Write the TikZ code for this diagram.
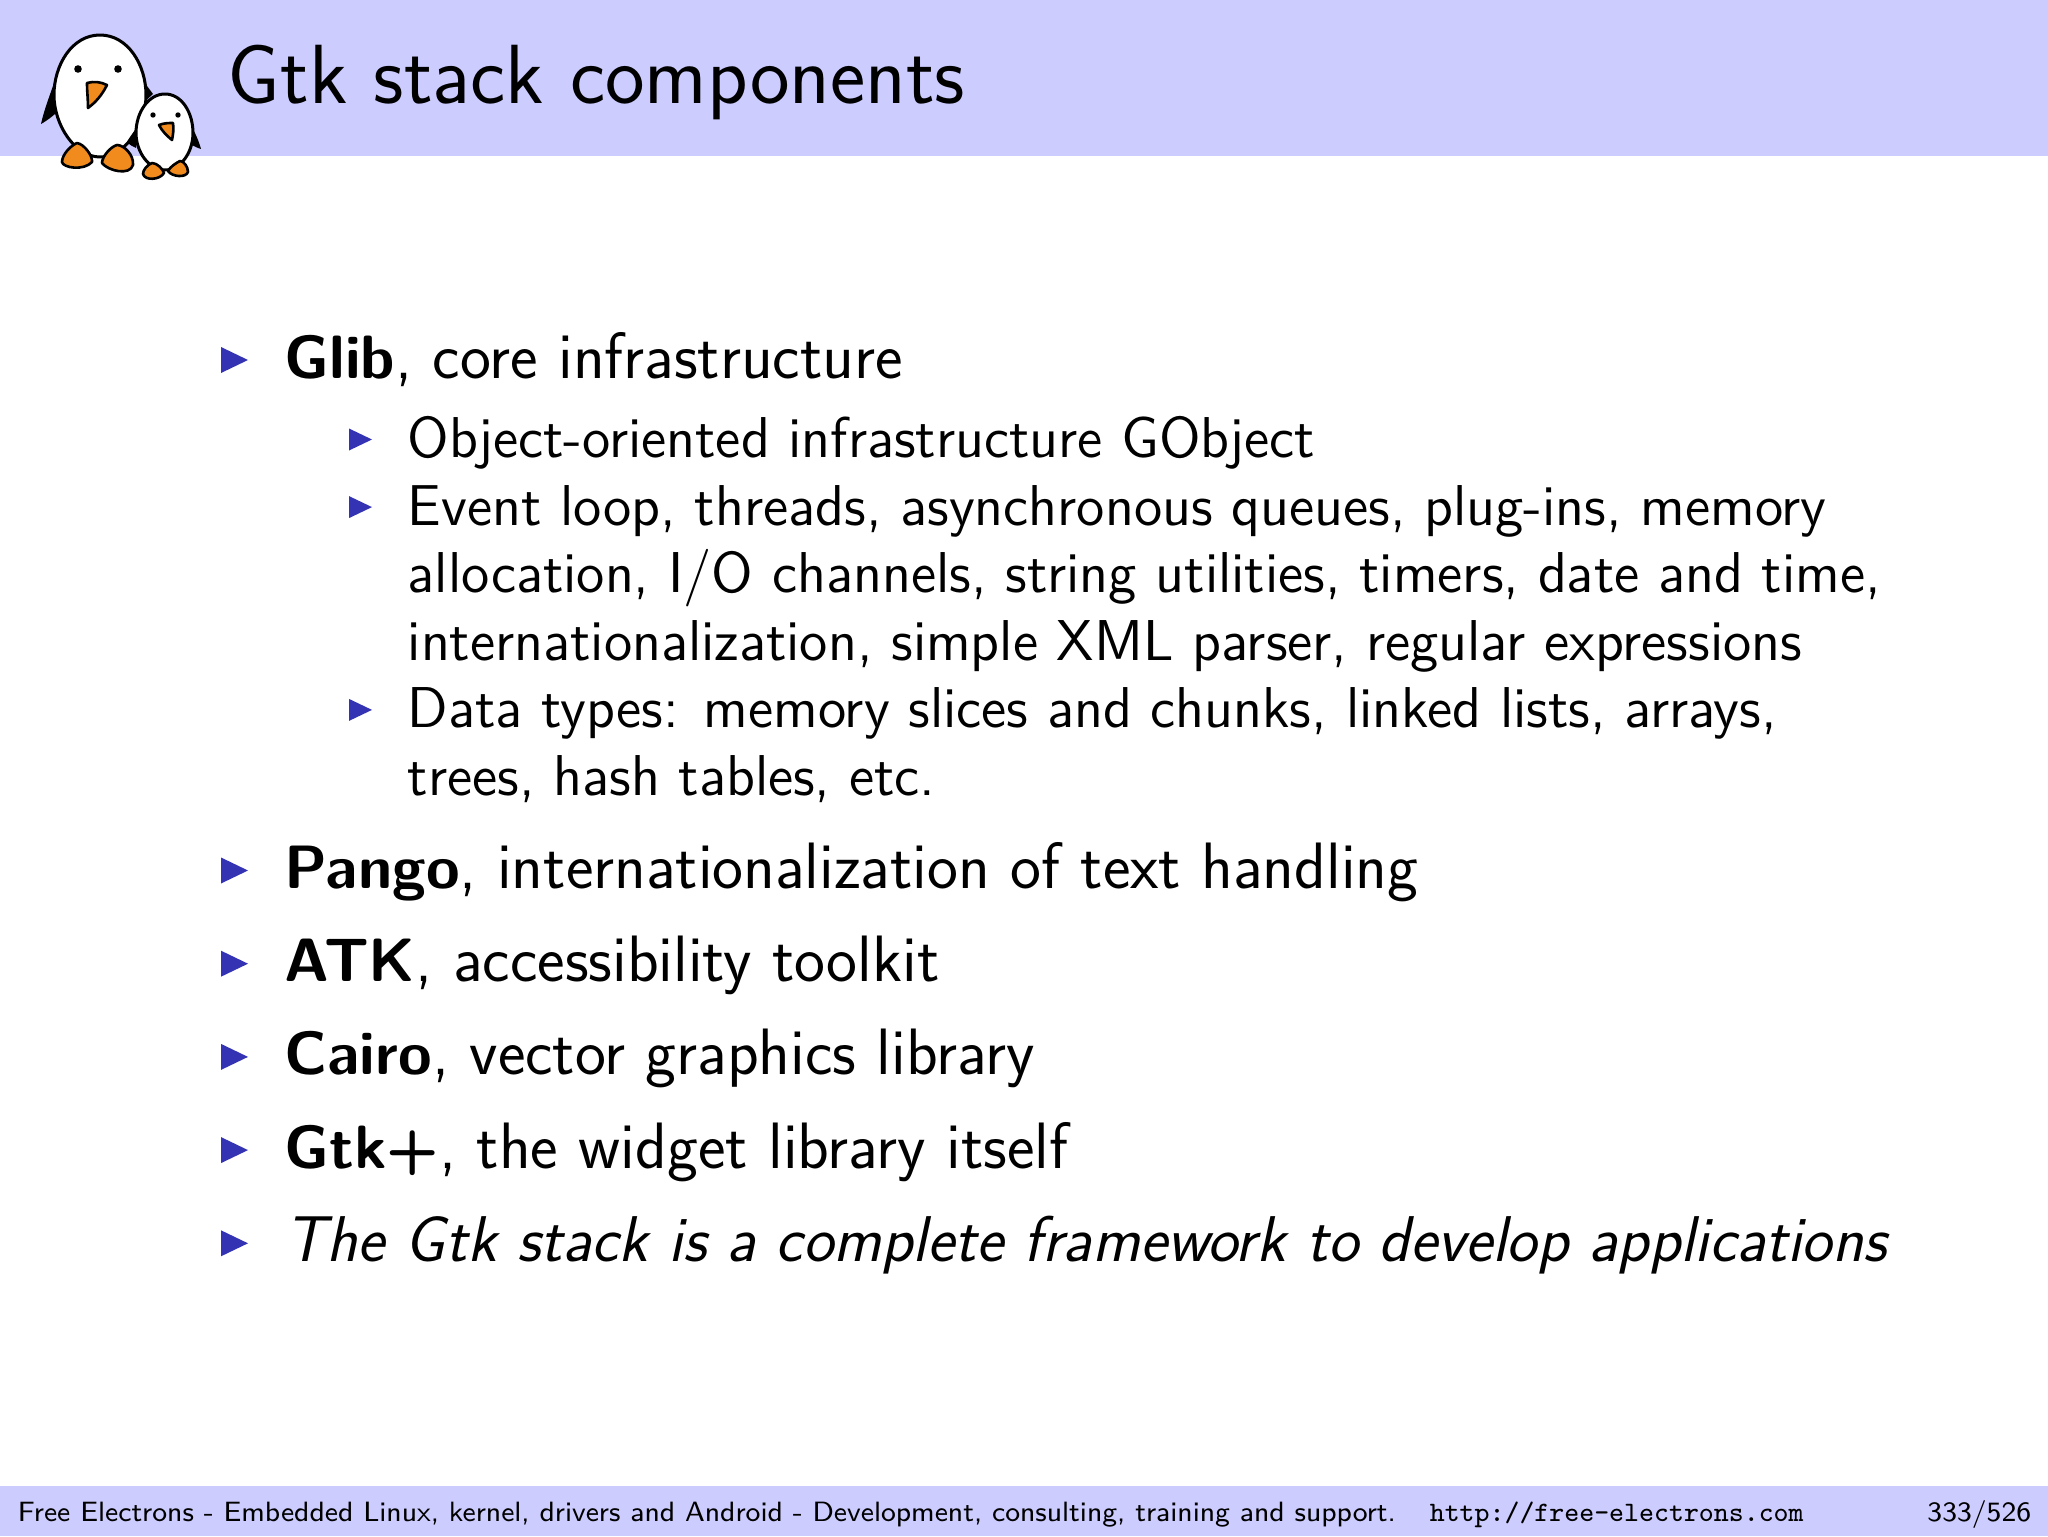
\documentclass[tikz,border=0pt]{standalone}
\usepackage{xcolor}
\usepackage{tikz}
\usetikzlibrary{calc, positioning}
\definecolor{bandblue}{HTML}{CCCCFF}
\definecolor{bulletblue}{HTML}{3333B3}
\definecolor{beakorange}{HTML}{F28B1E}
\newcommand{\libname}[1]{{\fontsize{15.3}{19}\selectfont\bfseries #1}}
\tikzset{
  lineone/.style={anchor=base west, inner sep=0, font=\sffamily\fontsize{16.4}{19}\selectfont},
  linetwo/.style={anchor=base west, inner sep=0, font=\sffamily\fontsize{14.4}{17}\selectfont},
  titletext/.style={anchor=base west, inner sep=0, font=\sffamily\fontsize{21}{25}\selectfont},
  foottext/.style={anchor=base west, inner sep=0, font=\sffamily\fontsize{6.98}{9}\selectfont},
  bodyline/.style={draw=black, line width=0.75pt, fill=white, line join=round},
  orangeline/.style={draw=black, line width=0.65pt, fill=beakorange, line join=round},
}
\begin{document}
\begin{tikzpicture}[x=0.25pt, y=0.25pt]
      \useasboundingbox (0,0) rectangle (2048,1536);
      % bands %
      \fill[bandblue] (0,1380) rectangle (2048,1536);
      \fill[bandblue] (0,0) rectangle (2048,50);

      % penguins %
      \begin{scope}[shift={(0,1536)}, yscale=-1]
        \fill (55,80) .. controls (50,95) and (44,110) .. (41,124) .. controls (48,120) and (53,116) .. (57,112) -- cycle;
        \fill (144,82) -- (153,94) -- (142,104) -- cycle;
        \draw[bodyline] (100,35) .. controls (72,35) and (54,65) .. (54,95) .. controls (54,125) and (75,157) .. (100,157) .. controls (125,157) and (146,125) .. (146,95) .. controls (146,65) and (128,35) .. (100,35) -- cycle;
        \fill (78,69) circle (3.8) (118,69) circle (3.8);
        \draw[orangeline] (87,83) .. controls (94,81) and (101,82) .. (107,85) .. controls (102,95) and (96,102) .. (88,108) .. controls (88,99) and (87,91) .. (87,83) -- cycle;
        \draw[orangeline] (77,143) .. controls (70,146) and (62,155) .. (62,162) .. controls (63,168) and (84,171) .. (92,162) .. controls (93,156) and (84,144) .. (77,143) -- cycle;
        \draw[orangeline] (117,145) .. controls (110,147) and (102,157) .. (102,163) .. controls (108,171) and (130,176) .. (133,165) .. controls (134,155) and (124,145) .. (117,145) -- cycle;

        \fill (137,127) .. controls (133,133) and (129,138) .. (127,142) .. controls (130,145) and (133,147) .. (136,148) -- cycle;
        \fill (191,125) .. controls (195,133) and (199,141) .. (201,149) .. controls (198,148) and (195,147) .. (192,145) -- cycle;
        \draw[bodyline] (165,94) .. controls (148,94) and (136,113) .. (136,133) .. controls (136,152) and (149,170) .. (165,170) .. controls (181,170) and (193,152) .. (193,133) .. controls (193,113) and (182,94) .. (165,94) -- cycle;
        \fill (153,115) circle (2.7) (178,115) circle (2.7);
        \draw[orangeline] (159,125) .. controls (164,123) and (169,123) .. (173,123) .. controls (174,129) and (173,135) .. (172,140) .. controls (167,136) and (162,131) .. (159,125) -- cycle;
        \draw[orangeline] (152,163) .. controls (147,165) and (143,170) .. (143,174) .. controls (145,181) and (160,180) .. (164,173) .. controls (163,169) and (157,163) .. (152,163) -- cycle;
        \draw[orangeline] (180,161) .. controls (176,163) and (170,167) .. (168,171) .. controls (172,177) and (186,178) .. (188,172) .. controls (188,167) and (184,161) .. (180,161) -- cycle;
      \end{scope}

      % title and first line %
      \node[titletext] (title) at (227,1433) {Gtk stack components};
      \node[lineone] (glib) at (284,1158) {\libname{Glib}, core infrastructure};

      % sublist %
      \node[linetwo] (object) at (407,1078.5) {Object-oriented infrastructure GObject};
      \node[below=16.9pt of object.base west, linetwo] (event) {Event loop, threads, asynchronous queues, plug-ins, memory};
      \node[below=16.9pt of event.base west, linetwo] (alloc) {allocation, I/O channels, string utilities, timers, date and time,};
      \node[below=16.9pt of alloc.base west, linetwo] (intl) {internationalization, simple XML parser, regular expressions};
      \node[below=16.9pt of intl.base west, linetwo] (data) {Data types: memory slices and chunks, linked lists, arrays,};
      \node[below=16.9pt of data.base west, linetwo] (trees) {trees, hash tables, etc.};

      % remaining list %
      \node[lineone] (pango) at (284,647.5) {\libname{Pango}, internationalization of text handling};
      \node[below=23.3pt of pango.base west, lineone] (atk) {\libname{ATK}, accessibility toolkit};
      \node[below=23.3pt of atk.base west, lineone] (cairo) {\libname{Cairo}, vector graphics library};
      \node[below=23.3pt of cairo.base west, lineone] (gtk) {\libname{Gtk+}, the widget library itself};
      \node[below=23.3pt of gtk.base west, lineone, font=\sffamily\fontsize{16.17}{19}\selectfont] (stack) {\textit{The Gtk stack is a complete framework to develop applications}};

      % bullets %
      \foreach \n in {glib, pango, atk, cairo, gtk, stack}
        \fill[bulletblue] ($(\n.base west)+(-63,5)$) -- ++(0,26) -- ++(27,-13) -- cycle;
      \foreach \n in {object, event, data}
        \fill[bulletblue] ($(\n.base west)+(-58,7)$) -- ++(0,22) -- ++(23,-11) -- cycle;

      % footer %
      \node[foottext] (foot) at (17,15) {Free Electrons - Embedded Linux, kernel, drivers and Android - Development, consulting, training and support.};
      \node[foottext, font=\ttfamily\fontsize{7.04}{9}\selectfont] (url) at (1429,15) {http://free-electrons.com};
      \node[foottext, anchor=base east] (page) at (2032,15) {333/526};
    \end{tikzpicture}
\end{document}
